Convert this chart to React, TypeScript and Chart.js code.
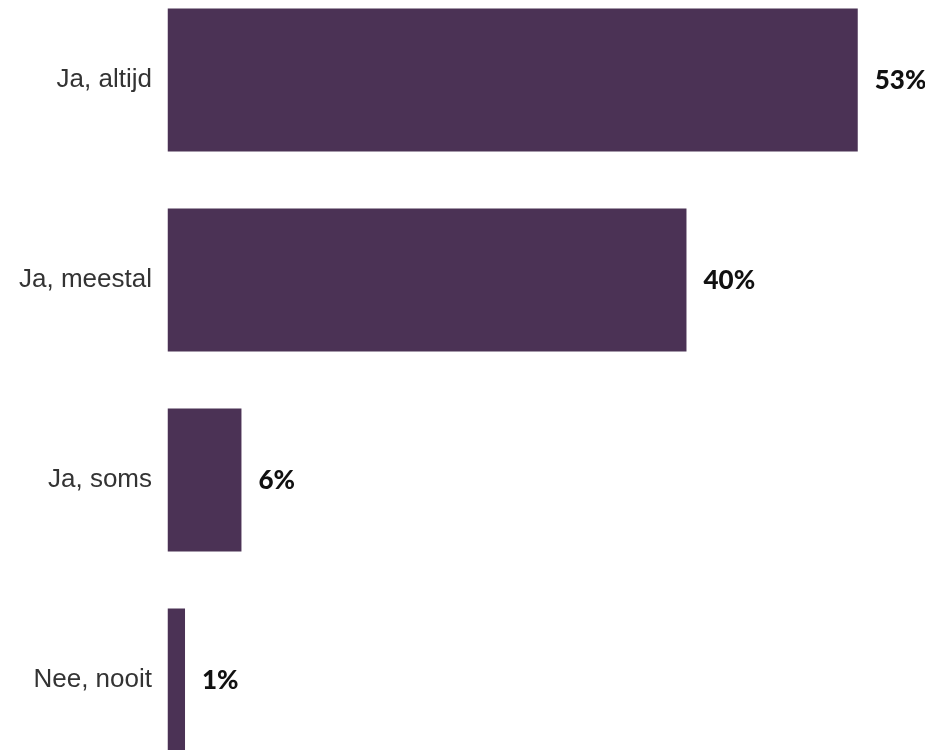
import React, { useEffect, useRef } from "react";
import { Chart, registerables } from "chart.js";

Chart.register(...registerables);

const categories = ["Ja, altijd", "Ja, meestal", "Ja, soms", "Nee, nooit"];
const values = [53.2, 40, 5.7, 1.35];
const valueLabels = ["53%", "40%", "6%", "1%"];

const BAR_COLOR = "#4b3255";

export default function App() {
  const ref = useRef<HTMLCanvasElement | null>(null);

  useEffect(() => {
    if (!ref.current) return;
    const labelPlugin = {
      id: "valueLabels",
      afterDatasetsDraw(chart: any) {
        const ctx = chart.ctx;
        const meta = chart.getDatasetMeta(0);
        ctx.save();
        ctx.font = "900 26px Lato, 'Open Sans', sans-serif";
        ctx.fillStyle = "#111111";
        ctx.textAlign = "left";
        ctx.textBaseline = "middle";
        meta.data.forEach((el: any, i: number) => {
          ctx.fillText(valueLabels[i], el.x + 17, el.y + 1);
        });
        ctx.restore();
      },
    };
    const chart = new Chart(ref.current, {
      type: "bar",
      data: {
        labels: categories,
        datasets: [
          {
            data: values,
            backgroundColor: BAR_COLOR,
            borderWidth: 0,
            barPercentage: 0.715,
            categoryPercentage: 1,
          },
        ],
      },
      options: {
        indexAxis: "y",
        responsive: true,
        maintainAspectRatio: false,
        animation: false,
        layout: { padding: 0 },
        plugins: {
          legend: { display: false },
          tooltip: { enabled: false },
          title: { display: false },
        },
        scales: {
          x: {
            display: false,
            min: 0,
            max: 59,
          },
          y: {
            grid: { display: false, drawTicks: false },
            border: { display: false },
            ticks: {
              color: "#333333",
              font: { family: "'Liberation Sans', Arial, sans-serif", size: 26 },
              padding: 15.5,
            },
            afterFit(scale: any) {
              scale.width = 159.5;
              scale.paddingTop = 0;
              scale.paddingBottom = 0;
            },
          },
        },
      },
      plugins: [labelPlugin],
    });
    return () => chart.destroy();
  }, []);

  return (
    <div style={{ height: 742, width: 925, position: "relative", overflow: "hidden" }}>
      <div style={{ position: "absolute", top: -28, left: 0, width: 925, height: 800 }}>
        <canvas ref={ref} />
      </div>
    </div>
  );
}
